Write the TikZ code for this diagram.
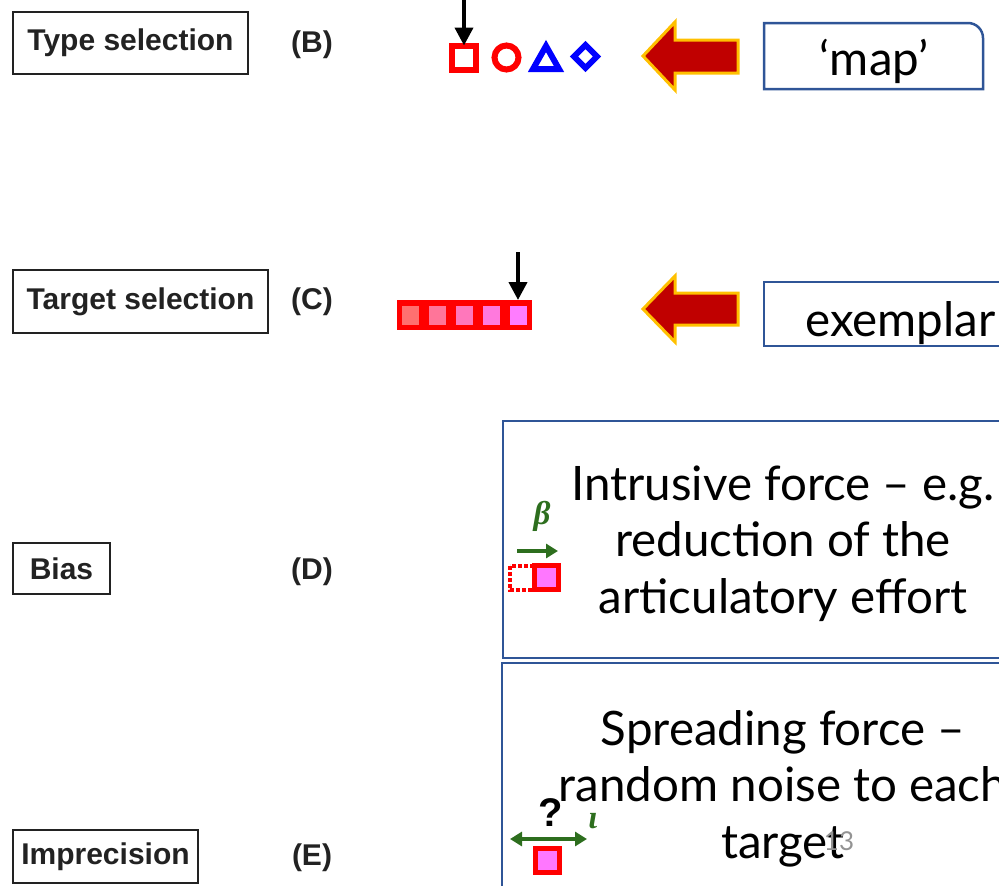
\documentclass[tikz,border=0pt]{standalone}
\usepackage{fontspec}
\usetikzlibrary{arrows.meta}
\newfontfamily\labelfont{Liberation Sans}
\newfontfamily\bodyfont{Lato}
\newfontfamily\greekfont{Liberation Serif}
\definecolor{frameblue}{HTML}{2F5597}
\definecolor{arrowred}{HTML}{C00000}
\definecolor{arrowgold}{HTML}{FFC000}
\definecolor{forcegreen}{HTML}{2D6E1E}
\definecolor{tokenpink}{HTML}{FF77FF}
\definecolor{inkgrey}{HTML}{222222}
\tikzset{
  lblbox/.style={draw=inkgrey, line width=2pt, inner sep=0pt, text=inkgrey,
    font=\labelfont\bfseries\fontsize{30}{34}\selectfont},
  letter/.style={inner sep=0pt, text=inkgrey,
    font=\labelfont\bfseries\fontsize{30}{34}\selectfont},
  bigtext/.style={inner sep=0pt, align=center,
    font=\bodyfont\fontsize{47.5}{56.5}\selectfont},
  framebox/.style={draw=frameblue, line width=2.5pt},
  blockarrow/.style={fill=arrowred, draw=arrowgold, line width=3pt, line join=miter},
  pointer/.style={line width=4pt, -{Triangle[width=18pt,length=18pt]}},
  greenarrow/.style={draw=forcegreen, line width=4.5pt},
  greektext/.style={text=forcegreen, inner sep=0pt, font=\greekfont\bfseries\itshape\fontsize{33}{36}\selectfont},
  token/.style={draw=red, line width=5pt, fill=tokenpink, inner sep=0pt, minimum size=24pt}
}
\begin{document}
\begin{tikzpicture}[x=1pt,y=-1pt]
\useasboundingbox (0,0) rectangle (999,886);
\clip (0,0) rectangle (999,886);

% stage labels on the left
\node[lblbox, minimum width=235pt, minimum height=62pt] (typesel) at (130.5,43) {Type selection};
\node[lblbox, minimum width=255pt, minimum height=63pt] (targsel) at (140.5,301.5) {Target selection};
\node[lblbox, minimum width=97pt, minimum height=51pt] (bias) at (61.5,568.5) {Bias};
\node[lblbox, minimum width=185pt, minimum height=53pt] (imprec) at (105.5,856.5) {Imprecision};
\node[letter] (lB) at (312,45) {(B)};
\node[letter] (lC) at (312,302) {(C)};
\node[letter] (lD) at (312,572) {(D)};
\node[letter] (lE) at (312,858) {(E)};

% (B) category types
\node[draw=red, line width=6pt, minimum size=24pt, inner sep=0pt] (sqB) at (464,57.5) {};
\node[draw=red, line width=6pt, circle, minimum size=24pt, inner sep=0pt] (circB) at (506.5,57.5) {};
\draw[blue, line width=6pt, line join=miter] (546,46) -- (559,69) -- (533,69) -- cycle;
\draw[blue, line width=6pt, line join=miter] (585.5,45) -- (597,56.5) -- (585.5,68) -- (574,56.5) -- cycle;
\coordinate (topB) at (464,0);
\draw[pointer] (topB) -- ([yshift=-3pt]sqB.north);

% (C) row of exemplars
\node[fill=red, minimum width=135pt, minimum height=30pt, inner sep=0pt] (rowC) at (464.5,315) {};
\foreach \i/\c in {0/FF7070, 1/FF7599, 2/FF77BB, 3/FF79DD, 4/FF7CFF} {
  \definecolor{cellc}{HTML}{\c}
  \fill[cellc] (402+27*\i,305.5) rectangle (419+27*\i,324.5);
}
\coordinate (topC) at (518,252);
\coordinate (cellC) at (518,300);
\draw[pointer] (topC) -- (cellC);

% block arrows
\draw[blockarrow] (643,56) -- (675,22) -- (675,40) -- (738,40) -- (738,73) -- (675,73) -- (675,90) -- cycle;
\draw[blockarrow] (643,309) -- (675,276) -- (675,293) -- (738,293) -- (738,325) -- (675,325) -- (675,342) -- cycle;

% word boxes
\draw[framebox] (764,89) -- (764,23) -- (968,23) .. controls (976.3,23) and (983,29.7) .. (983,38) -- (983,89) -- cycle;
\node[bigtext, anchor=base] (map) at (874,75) {‘map’};
\draw[framebox] (764,346) -- (764,282) -- (1030,282) -- (1030,346) -- cycle;
\node[bigtext, anchor=base west] (exemplar) at (805,336) {exemplar};

% force boxes (anchor=base sits on the last line)
\draw[framebox] (503,421) rectangle (1063,658);
\draw[framebox] (502,663) rectangle (1063,910);
\node[bigtext, anchor=base] (intrusive) at (783,613) {Intrusive force – e.g.\\reduction of the\\articulatory effort};
\node[bigtext, anchor=base] (spreading) at (783,858) {Spreading force –\\random noise to each\\target};
\node[inner sep=0pt, text=gray!85, font=\bodyfont\fontsize{26}{30}\selectfont] (pageno) at (839,841) {13};

% (D) bias icon
\draw[red, line width=4pt, dotted] (510,566) rectangle (534,590);
\node[token] (tokD) at (546,577.5) {};
\node[greektext] (beta) at (542,516) {β};
\coordinate (biasL) at (517,551);
\coordinate (biasR) at (558,551);
\draw[greenarrow, -{Triangle[width=14pt,length=12pt]}] (biasL) -- (biasR);

% (E) imprecision icon
\node[token] (tokE) at (547.5,860.5) {};
\node[inner sep=0pt, font=\labelfont\bfseries\fontsize{40}{44}\selectfont] (qmark) at (551,813) {?};
\node[greektext] (iota) at (593,821) {ι};
\coordinate (impL) at (510,839);
\coordinate (impR) at (587,839);
\draw[greenarrow, {Triangle[width=14pt,length=12pt]}-{Triangle[width=14pt,length=12pt]}] (impL) -- (impR);
\end{tikzpicture}
\end{document}
